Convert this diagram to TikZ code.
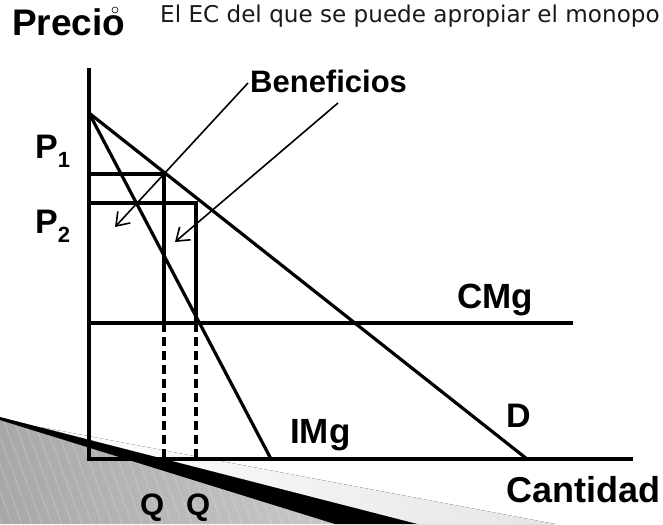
\documentclass[tikz,border=0pt]{standalone}
\usepackage{fontspec}
\setmainfont{Liberation Sans}
\newfontfamily\titlefont{DejaVu Sans}
\usetikzlibrary{arrows.meta}
\tikzset{
  curve/.style={line width=3.2pt},
  guide/.style={line width=3.4pt, dash pattern=on 9pt off 5pt},
  callout/.style={line width=1.6pt, -{Straight Barb[length=12pt,width=17pt,line width=1.6pt]}},
  lbl/.style={inner sep=0pt, anchor=base west, font=\bfseries\fontsize{34}{34}\selectfont},
}
\begin{document}
\begin{tikzpicture}[x=1pt,y=-1pt]
\useasboundingbox (0,0) rectangle (663,524);
% fondo de la plantilla
\fill[left color=white, right color=gray!20] (40,427) -- (555,524) -- (417,524) -- cycle;
\begin{scope}
  \clip (0,420) -- (335,524) -- (0,524) -- cycle;
  \fill[left color=gray!68, right color=gray!42] (0,410) rectangle (350,524);
  \foreach \s in {-60,-50,...,350}
    \draw[white, opacity=0.22, line width=0.8pt] (\s,410) -- (\s+42,524);
\end{scope}
\fill[black] (0,417) -- (417,524) -- (335,524) -- (0,420) -- cycle;

% puntos
\coordinate (O) at (89,459);
\coordinate (ytop) at (89,68);
\coordinate (xend) at (633,459);
\coordinate (A) at (89,113);
\coordinate (Dend) at (527,459);
\coordinate (IMgend) at (271,459);
\coordinate (cmgL) at (89,323);
\coordinate (cmgR) at (573,323);
\coordinate (p1) at (89,174);
\coordinate (p2) at (89,203);
\coordinate (E1) at (164,174);
\coordinate (E2) at (196,203);
\coordinate (q1m) at (164,323);
\coordinate (q2m) at (196,323);
\coordinate (q1) at (164,459);
\coordinate (q2) at (196,459);

% ejes y curvas
\draw[curve] (ytop) -- (O) -- (xend);
\draw[curve] (A) -- (Dend);
\draw[curve] (A) -- (IMgend);
\draw[curve] (cmgL) -- (cmgR);
\draw[curve] (p1) -- (E1) -- (q1m);
\draw[curve] (p2) -- (E2) -- (q2m);
\draw[guide] (q1m) -- (q1);
\draw[guide] (q2m) -- (q2);

% textos
\node[lbl, font=\bfseries\fontsize{37}{37}\selectfont] (precio) at (12,36) {Precio};
\node[circle, draw, line width=0.6pt, inner sep=0pt, minimum size=6pt] (bullet) at (115,10) {};
\node[inner sep=0pt, anchor=base west, text=black!90, font=\titlefont\fontsize{23.1}{23.1}\selectfont] (titulo) at (160,23) {El EC del que se puede apropiar el monopo};
\node[lbl, font=\bfseries\fontsize{31}{31}\selectfont] (ben) at (250,93) {Beneficios};
\node[lbl] (P1) at (35,158) {P\raisebox{-9pt}{\fontsize{22}{22}\selectfont 1}};
\node[lbl] (P2) at (35,233) {P\raisebox{-9pt}{\fontsize{22}{22}\selectfont 2}};
\node[lbl, font=\bfseries\fontsize{35}{35}\selectfont] (cmg) at (457,308) {CMg};
\node[lbl] (D) at (506,427) {D};
\node[lbl, font=\bfseries\fontsize{35}{35}\selectfont] (img) at (290,443) {IMg};
\node[lbl, font=\bfseries\fontsize{36}{36}\selectfont] (cant) at (506,502) {Cantidad};
\node[lbl, font=\bfseries\fontsize{31}{31}\selectfont] (Q1) at (140,515) {Q};
\node[lbl, font=\bfseries\fontsize{31}{31}\selectfont] (Q2) at (186,515) {Q};

% flechas
\coordinate (b1) at (248,83);
\coordinate (b2) at (338,103);
\coordinate (t1) at (115,227);
\coordinate (t2) at (175,242);
\draw[callout] (b1) -- (t1);
\draw[callout] (b2) -- (t2);
\end{tikzpicture}
\end{document}
